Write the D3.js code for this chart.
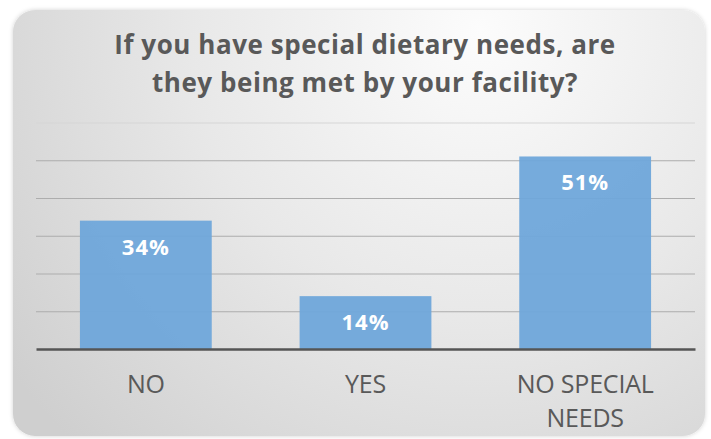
<!DOCTYPE html>
<html><head><meta charset="utf-8">
<script src="https://cdn.jsdelivr.net/npm/d3@7"></script>
<style>body{margin:0;background:#fff}svg{display:block}</style>
</head><body>
<svg id="c" width="711" height="439"></svg>
<script>
const categories = ["NO", "YES", "NO SPECIAL NEEDS"];
const values = [34, 14, 51];
const valueLabels = ["34%", "14%", "51%"];
const yTicks = [0, 10, 20, 30, 40, 50, 60];
const titleLines = ["If you have special dietary needs, are", "they being met by your facility?"];
const categoryLines = [["NO"], ["YES"], ["NO SPECIAL", "NEEDS"]];

const svg = d3.select("#c");
const defs = svg.append("defs");
const g1 = defs.append("radialGradient").attr("id","bg")
  .attr("gradientUnits","userSpaceOnUse").attr("cx",480).attr("cy",30).attr("r",580);
g1.append("stop").attr("offset","0").attr("stop-color","#fcfcfc");
g1.append("stop").attr("offset","0.5").attr("stop-color","#e8e8e8");
g1.append("stop").attr("offset","1").attr("stop-color","#cfcfcf");
const f = defs.append("filter").attr("id","sh").attr("x","-5%").attr("y","-5%").attr("width","110%").attr("height","110%");
f.append("feDropShadow").attr("dx",0).attr("dy",0).attr("stdDeviation",2).attr("flood-color","#000").attr("flood-opacity",0.18);

svg.append("rect").attr("x",13).attr("y",10).attr("width",692).attr("height",426)
  .attr("rx",22).attr("fill","url(#bg)").attr("filter","url(#sh)");

const font = "'Open Sans', 'Liberation Sans', sans-serif";
const x = d3.scaleBand().domain(categories).range([36, 695]).paddingInner(0.4).paddingOuter(0.2);
const y = d3.scaleLinear().domain([0, 60]).range([349, 122.5]);

// gridlines
const grid = svg.append("g").attr("transform","translate(36,0)")
  .call(d3.axisLeft(y).tickValues(yTicks.slice(1)).tickSize(-659).tickFormat(""));
grid.select(".domain").remove();
grid.selectAll("line").attr("stroke","#adadad").attr("stroke-width",1.2);
grid.selectAll(".tick").filter(d => d === 60).select("line").attr("stroke","#d6d6d6");

// bars
svg.append("g").selectAll("rect").data(values).join("rect")
  .attr("x",(d,i)=>x(categories[i])).attr("width",x.bandwidth())
  .attr("y",d=>y(d)).attr("height",d=>y(0)-y(d))
  .attr("fill","#6fa6da").attr("fill-opacity",0.95);

// baseline axis
const xa = svg.append("g").attr("transform",`translate(0,${y(0)})`)
  .call(d3.axisBottom(x).tickSize(0).tickFormat(""));
xa.select(".domain").attr("stroke","#555").attr("stroke-width",2.5);

// value labels
svg.append("g").selectAll("text").data(values).join("text")
  .attr("x",(d,i)=>x(categories[i])+x.bandwidth()/2)
  .attr("y",d=>y(d)+34)
  .attr("text-anchor","middle").attr("fill","#fff")
  .style("font-family",font).style("font-weight","bold").style("font-size","22px").style("letter-spacing","1px")
  .text((d,i)=>valueLabels[i]);

// category labels
const cl = svg.append("g");
categoryLines.forEach((lines,i)=>{
  lines.forEach((t,j)=>{
    cl.append("text").attr("x",x(categories[i])+x.bandwidth()/2).attr("y",393+j*33.5)
      .attr("text-anchor","middle").attr("fill","#595959")
      .style("font-family",font).style("font-size","25px").style("letter-spacing","-0.2px").text(t);
  });
});

// title
const tt = svg.append("g");
titleLines.forEach((t,j)=>{
  tt.append("text").attr("x",365).attr("y",54+j*38)
    .attr("text-anchor","middle").attr("fill","#595959")
    .style("font-family",font).style("font-weight","bold").style("font-size","26px").style("letter-spacing","0.55px").text(t);
});
</script>
</body></html>
